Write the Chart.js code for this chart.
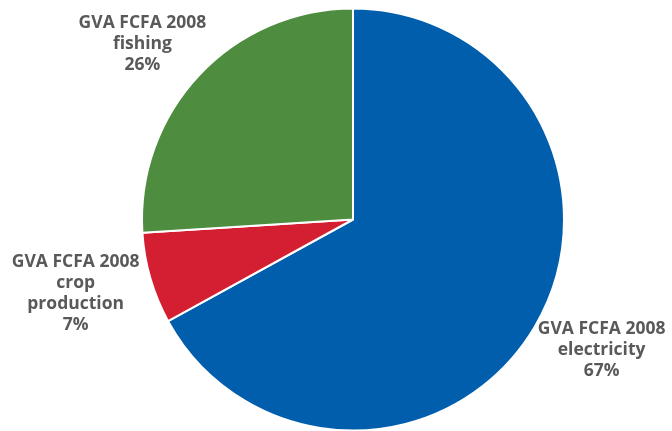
<!DOCTYPE html>
<html>
<head>
<meta charset="utf-8">
<script src="https://cdn.jsdelivr.net/npm/chart.js@4"></script>
<style>
  html, body { margin: 0; padding: 0; background: #ffffff; }
  #wrap { width: 672px; height: 431px; }
</style>
</head>
<body>
<div id="wrap"><canvas id="pie" width="672" height="431"></canvas></div>
<script>
// ---------------- DATA ----------------
const categories = [
  ["GVA FCFA 2008", "electricity"],
  ["GVA FCFA 2008", "crop", "production"],
  ["GVA FCFA 2008", "fishing"],
];
const shares = [67, 7, 26];
const sliceColors = ["#005EAD", "#D31F31", "#4E8C3F"];

// ---------------- LABEL PLUGIN ----------------
// puts each label just outside its slice, along the slice's middle angle
const outsideLabels = {
  id: "outsideLabels",
  afterDatasetsDraw(chart) {
    const ctx = chart.ctx;
    const meta = chart.getDatasetMeta(0);
    const total = shares.reduce((a, b) => a + b, 0);
    const lineH = 21;
    const gap = 14;

    ctx.save();
    ctx.font = "bold 17.5px 'Open Sans', sans-serif";
    ctx.fillStyle = "#595959";
    ctx.textAlign = "center";
    ctx.textBaseline = "middle";

    meta.data.forEach((arc, i) => {
      const lines = categories[i].concat([Math.round((shares[i] / total) * 100) + "%"]);
      const w = Math.max(...lines.map((l) => ctx.measureText(l).width));
      const h = lines.length * lineH;
      const mid = (arc.startAngle + arc.endAngle) / 2;
      const cos = Math.cos(mid);
      const sin = Math.sin(mid);
      const r = arc.outerRadius + gap;
      const cx = arc.x + r * cos + cos * w / 2;
      const cy = arc.y + r * sin + sin * h / 2;
      lines.forEach((l, k) => {
        ctx.fillText(l, cx, cy - h / 2 + lineH * (k + 0.5));
      });
    });
    ctx.restore();
  },
};

// ---------------- CHART ----------------
new Chart(document.getElementById("pie"), {
  type: "pie",
  data: {
    labels: categories.map((c) => c.join(" ")),
    datasets: [
      {
        data: shares,
        backgroundColor: sliceColors,
        borderColor: "#ffffff",
        borderWidth: 2,
      },
    ],
  },
  options: {
    responsive: false,
    animation: false,
    radius: 211,
    layout: { padding: { left: 34, right: 0, top: 8, bottom: 0 } },
    plugins: {
      legend: { display: false },
      tooltip: { enabled: false },
    },
  },
  plugins: [outsideLabels],
});
</script>
</body>
</html>
